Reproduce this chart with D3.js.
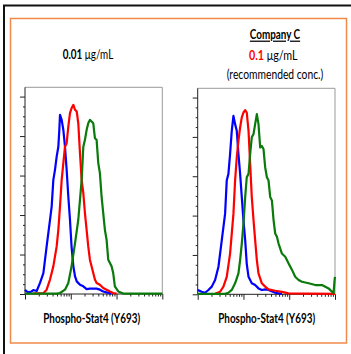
<!DOCTYPE html>
<html>
<head>
<meta charset="utf-8">
<script src="https://d3js.org/d3.v7.min.js"></script>
<style>
  body { margin: 0; background: #fff; }
  text { font-family: Lato, "Open Sans", sans-serif; }
</style>
</head>
<body>
<svg id="chart" width="351" height="354"></svg>
<script>
// intensity (log axis, 1..1000) vs. relative count (% of max)
const leftBlue = [[1,2.2],[1.09,1.3],[1.18,0.8],[1.4,1.3],[1.52,2.0],[1.8,1.5],[2.13,5.6],[2.52,10.6],[2.97,24.1],[3.52,37.6],[3.83,44.4],[4.16,57.8],[4.52,62.9],[4.92,69.6],[5.35,74.6],[5.62,83.1],[5.82,90.7],[6.33,88.2],[6.88,83.1],[7.48,74.6],[8.13,62.9],[8.84,49.4],[9.61,37.6],[10.4,24.1],[11.4,14.0],[12.4,8.9],[13.5,6.4],[15.9,4.7],[18.8,3.9],[22.2,2.5],[26.2,2.7],[36.7,2.7],[43.3,2.2],[51.2,1.3],[60.6,0.8],[77.9,0.2]]
const leftRed = [[1.52,0.3],[2.52,0.4],[2.97,2.2],[3.52,7.3],[4.16,14.0],[4.92,24.1],[5.35,32.5],[5.82,44.4],[6.33,57.8],[6.88,66.3],[7.48,74.6],[8.13,76.4],[8.84,84.8],[9.61,91.6],[10.4,94.1],[11.4,95.8],[12.4,93.3],[13.5,92.4],[14.6,86.5],[15.9,71.3],[17.3,57.8],[18.8,51.1],[20.4,41.0],[22.2,32.5],[24.1,24.1],[26.2,17.4],[31.0,10.6],[33.7,7.3],[36.7,5.6],[43.3,4.7],[51.2,3.0],[60.6,2.2],[71.6,1.3],[84.6,0.5],[100,0.2]]
const leftGreen = [[1,0.2],[4.92,0.2],[5.82,0.5],[7.48,2.2],[8.84,5.6],[10.4,14.0],[12.4,25.8],[14.6,37.6],[17.3,57.8],[18.8,74.6],[20.4,78.1],[22.2,83.1],[24.1,86.5],[26.2,88.2],[28.5,87.4],[31.0,86.5],[33.7,78.9],[36.7,78.1],[39.9,66.3],[43.3,61.2],[47.1,49.4],[51.2,41.0],[55.7,32.5],[60.6,27.5],[65.9,17.4],[77.9,14.0],[84.6,10.6],[92.0,3.9],[109,1.3],[140,0.2],[1000,0.2]]

const rightBlue = [[1,2.2],[1.22,1.3],[1.45,0.8],[1.71,2.2],[2.03,3.9],[2.40,7.3],[2.84,14.0],[3.36,27.5],[3.97,41.0],[4.31,57.8],[4.69,61.2],[5.10,71.3],[5.55,83.1],[6.04,90.7],[6.56,86.5],[7.14,83.1],[7.77,71.3],[8.45,61.2],[9.19,49.4],[10.0,37.6],[10.9,27.5],[11.8,15.5],[12.9,8.9],[15.2,5.6],[18.0,4.7],[21.3,3.0],[25.2,2.2],[29.8,2.5],[35.3,2.2],[49.4,0.8],[69.2,0.2]]
const rightRed = [[2.40,0.3],[3.08,1.3],[3.65,3.9],[4.31,8.9],[5.10,20.7],[6.04,41.0],[6.56,57.8],[7.14,69.6],[7.77,78.1],[8.45,84.8],[9.19,89.9],[10.0,92.4],[10.9,93.6],[11.8,92.4],[12.9,83.1],[14.0,66.3],[15.2,49.4],[16.6,37.6],[18.0,27.5],[19.6,17.4],[21.3,10.6],[25.2,5.6],[29.8,3.9],[35.3,2.5],[49.4,1.8],[69.2,1.2],[96.9,0.5],[265,0.3],[1000,0.2]]
const rightGreen = [[1,0.2],[3.97,0.2],[4.69,0.8],[5.55,2.2],[6.56,5.6],[7.77,10.6],[8.45,17.4],[9.19,25.8],[10.0,35.9],[10.9,49.4],[11.8,59.5],[12.9,61.2],[14.0,71.3],[15.2,79.8],[16.6,81.5],[18.0,86.5],[19.6,91.6],[21.3,86.5],[23.2,74.6],[25.2,75.4],[27.4,73.8],[29.8,64.6],[32.5,59.5],[35.3,57.8],[38.4,49.4],[41.8,47.7],[45.5,37.6],[49.4,30.9],[53.8,29.2],[58.5,25.8],[69.2,20.7],[81.9,19.1],[96.9,15.7],[115,12.4],[135,8.9],[160,7.3],[190,6.4],[265,5.6],[370,4.7],[520,4.7],[725,3.0],[860,1.3],[930,0.5],[980,7.3],[1000,8.9]]

const xDomain = [1, 1000]
const yDomain = [0, 104.7]
const yMajor = [0, 20, 40, 60, 80, 100]
const xLabel = "Phospho-Stat4 (Y693)"
const colors = ["#0000ff", "#ff0000", "#0a7a0a"]

const svg = d3.select("#chart")

// squeeze a text to the width it has in the original (narrow Calibri-like face)
const fit = (sel, cx, w) => {
  const bw = sel.node().getComputedTextLength()
  sel.attr("transform", `translate(${cx},0) scale(${w / bw},1) translate(${-cx},0)`)
}

// outer frames
svg.append("rect").attr("x", 0).attr("y", 0).attr("width", 351).attr("height", 354).attr("fill", "#fff")
svg.append("path").attr("d", "M4,354 L4,5.5 L351,5.5").attr("fill", "none").attr("stroke", "#111").attr("stroke-width", 2)
svg.append("rect").attr("x", 10.5).attr("y", 18.5).attr("width", 336).attr("height", 324.5)
  .attr("fill", "none").attr("stroke", "#f08a4b").attr("stroke-width", 1.5)

const drawPanel = (x0, x1, y0, y1, series, labelX) => {
  const x = d3.scaleLog().domain(xDomain).range([x0, x1])
  const y = d3.scaleLinear().domain(yDomain).range([y1, y0])
  const g = svg.append("g")

  // frame top/right
  g.append("path").attr("d", `M${x0},${y0} L${x1},${y0} L${x1},${y1}`)
    .attr("fill", "none").attr("stroke", "#999").attr("stroke-width", 1)

  // left axis
  const yAxis = g.append("g").attr("transform", `translate(${x0},0)`)
  yAxis.call(d3.axisLeft(y).tickValues(d3.range(0, 101, 5)).tickSize(2).tickFormat(""))
  yAxis.selectAll(".tick line").filter(d => yMajor.includes(d)).attr("x2", -5)
  yAxis.select(".domain").attr("d", `M0,${y1}V${y0}`)
  yAxis.selectAll("line, path").attr("stroke", "#222")

  // bottom axis
  const minors = []
  for (let dec = 1; dec < 1000; dec *= 10) for (let k = 2; k <= 9; k++) minors.push(dec * k)
  const xAxis = g.append("g").attr("transform", `translate(0,${y1})`)
  xAxis.call(d3.axisBottom(x).tickValues([1, 10, 100, 1000].concat(minors)).tickSize(2.5).tickFormat(""))
  xAxis.selectAll(".tick line").filter(d => [1, 10, 100, 1000].includes(d)).attr("y2", 5.5)
  xAxis.select(".domain").attr("d", `M${x0},0H${x1}`)
  xAxis.selectAll("line, path").attr("stroke", "#222")

  const line = d3.line().x(d => x(d[0])).y(d => y(d[1]))
  series.forEach((s, i) => {
    g.append("path").datum(s).attr("d", line)
      .attr("fill", "none").attr("stroke", colors[i]).attr("stroke-width", 2.2)
      .attr("stroke-linejoin", "round")
  })

  const lab = g.append("text").attr("x", labelX).attr("y", 323.5)
    .attr("text-anchor", "middle").attr("font-size", 12.8).attr("font-weight", "bold")
    .text(xLabel)
  fit(lab, labelX, 97)
}

drawPanel(25, 162.3, 87.3, 294, [leftBlue, leftRed, leftGreen], 91.7)
drawPanel(197.7, 335, 88.3, 294.3, [rightBlue, rightRed, rightGreen], 266.7)

// titles
const t1 = svg.append("text").attr("x", 88).attr("y", 59.5).attr("text-anchor", "middle").attr("font-size", 12.8)
t1.append("tspan").attr("font-weight", "bold").text("0.01")
t1.append("tspan").text(" μg/mL")
fit(t1, 88, 50.5)

const t2 = svg.append("text").attr("x", 275).attr("y", 39.5).attr("text-anchor", "middle").attr("font-size", 12.5)
  .attr("font-weight", "bold").attr("text-decoration", "underline").text("Company C")
fit(t2, 275, 50.3)
const t3 = svg.append("text").attr("x", 273.3).attr("y", 60.5).attr("text-anchor", "middle").attr("font-size", 12.8)
t3.append("tspan").attr("font-weight", "bold").attr("fill", "#ff0000").text("0.1")
t3.append("tspan").text(" μg/mL")
fit(t3, 273.3, 48.7)
const t4 = svg.append("text").attr("x", 275).attr("y", 79.5).attr("text-anchor", "middle").attr("font-size", 12.8)
  .text("(recommended conc.)")
fit(t4, 275, 96.7)
</script>
</body>
</html>
